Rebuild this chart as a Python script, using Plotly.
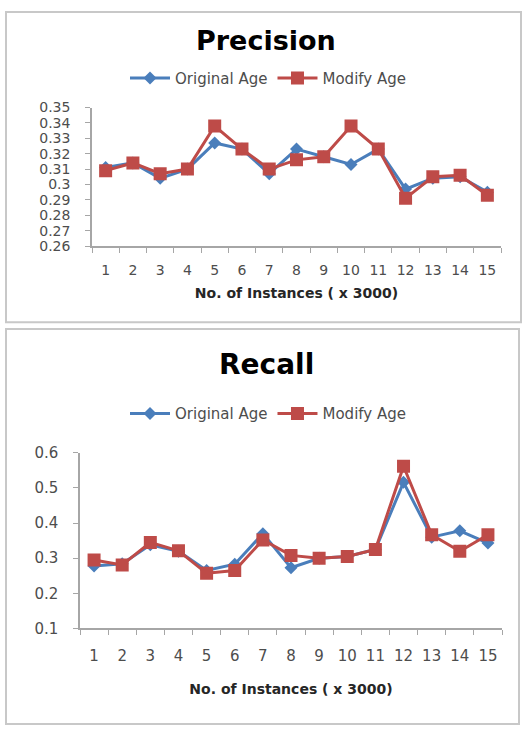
import plotly.graph_objects as go

instances = [str(i) for i in range(1, 16)]

precision_original = [0.311, 0.314, 0.304, 0.310, 0.327, 0.323, 0.307, 0.323, 0.318,
                      0.313, 0.323, 0.297, 0.304, 0.305, 0.295]
precision_modify = [0.309, 0.314, 0.307, 0.310, 0.338, 0.323, 0.310, 0.316, 0.318,
                    0.338, 0.323, 0.291, 0.305, 0.306, 0.293]

recall_original = [0.278, 0.284, 0.338, 0.320, 0.265, 0.283, 0.370, 0.273, 0.300,
                   0.305, 0.325, 0.516, 0.360, 0.378, 0.343]
recall_modify = [0.295, 0.281, 0.345, 0.321, 0.257, 0.265, 0.352, 0.308, 0.300,
                 0.305, 0.325, 0.562, 0.367, 0.320, 0.367]

precision_ticks = [0.26, 0.27, 0.28, 0.29, 0.3, 0.31, 0.32, 0.33, 0.34, 0.35]
precision_ticktext = ["0.26", "0.27", "0.28", "0.29", "0.3", "0.31", "0.32", "0.33", "0.34", "0.35"]
recall_ticks = [0.1, 0.2, 0.3, 0.4, 0.5, 0.6]
recall_ticktext = ["0.1", "0.2", "0.3", "0.4", "0.5", "0.6"]

W, H = 524, 735
BLUE = "#4A7EBB"
RED = "#BE4B48"
FONT = "DejaVu Sans"
TXT = "#4D4D4D"
AX = "#A6A6A6"

def px(x):
    return x / W

def py(y):
    return 1 - y / H

fig = go.Figure()

for xa, ya, lg, orig, mod in [("x", "y", "legend", precision_original, precision_modify),
                              ("x2", "y2", "legend2", recall_original, recall_modify)]:
    fig.add_trace(go.Scatter(x=instances, y=orig, name="Original Age",
                             mode="lines+markers", line=dict(color=BLUE, width=3),
                             marker=dict(symbol="diamond", size=10, color=BLUE),
                             xaxis=xa, yaxis=ya, legend=lg))
    fig.add_trace(go.Scatter(x=instances, y=mod, name="Modify Age",
                             mode="lines+markers", line=dict(color=RED, width=3),
                             marker=dict(symbol="square", size=13, color=RED),
                             xaxis=xa, yaxis=ya, legend=lg))

def xaxis(domain, anchor, size, lstand, standoff):
    return dict(showgrid=False, zeroline=False, showline=True,
                linecolor=AX, linewidth=1.5, domain=domain, anchor=anchor,
                type="category", range=[-0.5, 14.5],
                ticks="outside", ticklen=5, tickcolor=AX,
                tickson="boundaries", ticklabelstandoff=lstand,
                tickfont=dict(family=FONT, size=size, color=TXT),
                title=dict(text="<b>No. of Instances ( x 3000)</b>",
                           font=dict(family=FONT, size=14, color="#262626"),
                           standoff=standoff))

def yaxis(domain, anchor, rng, tv, tt, size):
    return dict(showgrid=False, zeroline=False, showline=True,
                linecolor=AX, linewidth=1.5, domain=domain, anchor=anchor,
                range=rng, tickvals=tv, ticktext=tt,
                ticks="outside", ticklen=5, tickcolor=AX, ticklabelstandoff=12,
                tickfont=dict(family=FONT, size=size, color=TXT))

fig.update_layout(
    width=W, height=H,
    margin=dict(l=0, r=0, t=0, b=0),
    paper_bgcolor="white", plot_bgcolor="white",
    font=dict(family=FONT, color=TXT),
    xaxis=xaxis([px(92), px(501)], "y", 14, 10, 12),
    yaxis=yaxis([py(243), py(101)], "x", [0.26, 0.35], precision_ticks, precision_ticktext, 14),
    xaxis2=xaxis([px(80), px(502)], "y2", 15, 13, 20),
    yaxis2=yaxis([py(635), py(455)], "x2", [0.1, 0.6], recall_ticks, recall_ticktext, 15),
    legend=dict(orientation="h", x=px(268), y=py(71), xanchor="center", yanchor="middle",
                font=dict(family=FONT, size=15, color=TXT), itemwidth=40,
                bgcolor="rgba(0,0,0,0)"),
    legend2=dict(orientation="h", x=px(268), y=py(415), xanchor="center", yanchor="middle",
                 font=dict(family=FONT, size=15, color=TXT), itemwidth=40,
                 bgcolor="rgba(0,0,0,0)"),
    annotations=[
        dict(text="<b>Precision</b>", x=px(266), y=py(32), xref="paper", yref="paper",
             showarrow=False, font=dict(family=FONT, size=27, color="black"),
             xanchor="center", yanchor="middle"),
        dict(text="<b>Recall</b>", x=px(266), y=py(364), xref="paper", yref="paper",
             showarrow=False, font=dict(family=FONT, size=28, color="black"),
             xanchor="center", yanchor="middle"),
    ],
    shapes=[
        dict(type="rect", xref="paper", yref="paper",
             x0=px(6), x1=px(521), y0=py(321), y1=py(3),
             line=dict(color="#C8C8C8", width=2)),
        dict(type="rect", xref="paper", yref="paper",
             x0=px(6), x1=px(519), y0=py(733), y1=py(328),
             line=dict(color="#C8C8C8", width=2)),
    ],
)

fig.write_html("out.html", config={"displayModeBar": False},
               post_script="document.body.style.margin='0';document.body.style.overflow='hidden';")
